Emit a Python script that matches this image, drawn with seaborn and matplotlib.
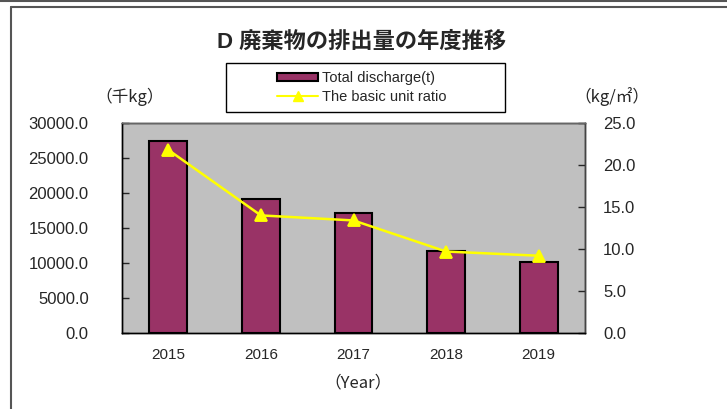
import matplotlib
matplotlib.use("Agg")
import matplotlib.pyplot as plt
import seaborn as sns
import pandas as pd
from matplotlib.lines import Line2D
from matplotlib.patches import Patch, Rectangle

years = ["2015", "2016", "2017", "2018", "2019"]
discharge = [27500.0, 19200.0, 17100.0, 11700.0, 10200.0]   # 千kg
unit_ratio = [21.8, 14.0, 13.4, 9.7, 9.2]                   # kg/m2

title = "D 廃棄物の排出量の年度推移"
bar_label = "Total discharge(t)"
line_label = "The basic unit ratio"

df = pd.DataFrame({"year": years, "discharge": discharge, "ratio": unit_ratio})

sns.set_style("white")
plt.rcParams["font.family"] = ["Liberation Sans", "Noto Sans CJK JP", "DejaVu Sans"]

fig = plt.figure(figsize=(7.27, 4.09), dpi=100)
ax = fig.add_axes([122 / 727, 1 - 333 / 409, 463 / 727, 210 / 409])
ax.set_facecolor("#C0C0C0")

sns.barplot(data=df, x="year", y="discharge", ax=ax, color="#993366",
            edgecolor="black", linewidth=1.5, width=0.41, saturation=1)
ax.set_xlim(-0.5, len(years) - 0.5)
ax.set_ylim(0, 30000)
ax.set_yticks(range(0, 30001, 5000))
ax.set_yticklabels([f"{v:.1f}" for v in range(0, 30001, 5000)], fontsize=12)
ax.set_xlabel("")
ax.set_ylabel("")
ax.tick_params(axis="x", length=0, labelsize=11, pad=11)
ax.set_xticks([i + 0.5 for i in range(len(years) - 1)], minor=True)
ax.tick_params(axis="x", which="minor", direction="in", length=4, width=1)
ax.tick_params(axis="y", direction="in", length=5, width=1, pad=24, left=True)

ax2 = ax.twinx()
sns.pointplot(data=df, x="year", y="ratio", ax=ax2, color="#FFFF00",
              markers="^", markersize=8, linewidth=1.8)
ax2.set_ylim(0, 25)
ax2.set_yticks(range(0, 26, 5))
ax2.set_yticklabels([f"{v:.1f}" for v in range(0, 26, 5)], fontsize=12)
ax2.set_ylabel("")
ax2.tick_params(axis="y", direction="in", length=5, width=1, pad=13, right=True)
ax.set_xlim(-0.5, len(years) - 0.5)

for a in (ax, ax2):
    for s in a.spines.values():
        s.set_color("black")
        s.set_linewidth(1)
        s.set_visible(True)
ax2.spines["top"].set_color("#666666")
ax2.spines["right"].set_color("#444444")

fig.text(362 / 727, 1 - 42 / 409, title, ha="center", va="center",
         fontsize=16, fontweight="bold", family=["Liberation Sans", "Noto Sans CJK JP"])
fig.text(130 / 727, 1 - 97 / 409, "（千kg）", ha="center", va="center", fontsize=12,
         family=["Noto Sans CJK JP"])
fig.text(612 / 727, 1 - 97 / 409, "（kg/㎡）", ha="center", va="center", fontsize=12,
         family=["Noto Sans CJK JP"])
fig.text(358 / 727, 1 - 383 / 409, "（Year）", ha="center", va="center", fontsize=12,
         family=["Noto Sans CJK JP"])

# legend box
fig.patches.append(Rectangle((226 / 727, 1 - 112 / 409), 279 / 727, 49 / 409,
                             transform=fig.transFigure, facecolor="white",
                             edgecolor="black", linewidth=1, zorder=3))
handles = [Patch(facecolor="#993366", edgecolor="black", linewidth=1.5),
           Line2D([], [], color="#FFFF00", marker="^", markersize=7, linewidth=1.5)]
fig.legend(handles, [bar_label, line_label], loc="center",
           bbox_to_anchor=(362 / 727, 1 - 87.5 / 409), frameon=False, fontsize=10.5,
           handlelength=2.8, handleheight=0.5, labelspacing=0.35, handletextpad=0.3)

# outer frame lines
fig.add_artist(Line2D([0, 1], [1 - 1 / 409, 1 - 1 / 409], transform=fig.transFigure,
                      color="#555555", linewidth=1.5))
fig.add_artist(Line2D([11 / 727, 1], [1 - 7 / 409, 1 - 7 / 409], transform=fig.transFigure,
                      color="#555555", linewidth=1.5))
fig.add_artist(Line2D([11 / 727, 11 / 727], [1 - 7 / 409, 0], transform=fig.transFigure,
                      color="#555555", linewidth=1.5))

fig.savefig("out.png", dpi=100)
